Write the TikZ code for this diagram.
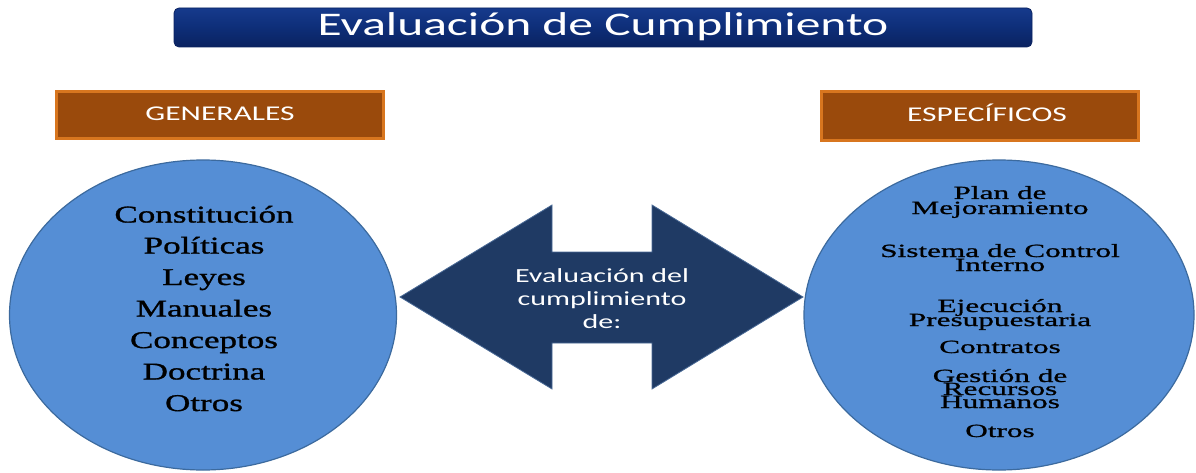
\documentclass[tikz,border=0pt]{standalone}
\usepackage{fontspec}
\setmainfont{Liberation Serif}
\newfontfamily\evalSans[FakeStretch=1.5]{Carlito}
\newfontfamily\evalWideL[FakeStretch=1.46,FakeBold=1.2]{Liberation Serif}
\newfontfamily\evalWideR[FakeStretch=1.68,FakeBold=1]{Liberation Serif}
\usetikzlibrary{shapes.geometric}

\definecolor{evalOvalFill}{HTML}{558ED5}
\definecolor{evalOvalLine}{HTML}{3C6A9E}
\definecolor{evalArrowFill}{HTML}{1F3A64}
\definecolor{evalArrowLine}{HTML}{4A6A96}
\definecolor{evalTitleTop}{HTML}{163A8C}
\definecolor{evalTitleMid}{HTML}{0E2E78}
\definecolor{evalTitleBot}{HTML}{0A2260}
\definecolor{evalHeadFill}{HTML}{9A4A0C}
\definecolor{evalHeadEdge}{HTML}{D8761F}

\begin{document}
\begin{tikzpicture}[
                x=1pt, y=1pt,
                evalTitle/.style={rounded corners=5pt,top color=evalTitleTop,
                                  bottom color=evalTitleBot,middle color=evalTitleMid,
                                  draw=evalTitleBot,line width=0.8pt,
                                  minimum width=858pt,minimum height=39pt,inner sep=0pt},
                evalHeader/.style={rectangle,fill=evalHeadFill,draw=evalHeadEdge,
                                   line width=3pt,inner sep=0pt},
                evalOval/.style={ellipse,fill=evalOvalFill,draw=evalOvalLine,
                                 line width=1.2pt,inner sep=0pt},
                evalArrow/.style={fill=evalArrowFill,draw=evalArrowLine,line width=0.8pt},
                evalSansText/.style={anchor=base,inner sep=0pt,text=white},
                evalItemL/.style={anchor=base,inner sep=0pt,
                                  font=\evalWideL\fontsize{24}{24}\selectfont},
                evalItemR/.style={anchor=base,inner sep=0pt,
                                  font=\evalWideR\fontsize{18.6}{18.6}\selectfont}]
                \useasboundingbox (0,0) rectangle (1196,472);
                % title bar
                \node[evalTitle] (title) at (603,444.5) {};
                \node[evalSansText,font=\evalSans\fontsize{33}{33}\selectfont]
                    (titleText) at (603,436) {Evaluación de Cumplimiento};
                % headers
                \node[evalHeader,minimum width=327pt,minimum height=47pt] (genHead) at (220,357) {};
                \node[evalSansText,font=\evalSans\fontsize{21}{21}\selectfont]
                    (genText) at (220,351) {GENERALES};
                \node[evalHeader,minimum width=317pt,minimum height=49pt] (espHead) at (980,356) {};
                \node[evalSansText,font=\evalSans\fontsize{21}{21}\selectfont]
                    (espText) at (987,350) {ESPECÍFICOS};
                % ovals
                \node[evalOval,minimum width=387pt,minimum height=310pt] (genOval) at (203,157) {};
                \node[evalOval,minimum width=390pt,minimum height=310pt] (espOval) at (999,157) {};
                % double arrow
                \coordinate (tipL) at (400,175);
                \coordinate (tipR) at (803,175);
                \draw[evalArrow] (tipL) -- (552,267) -- (552,220) -- (652,220) -- (652,267)
                    -- (tipR) -- (652,83) -- (652,129) -- (552,129) -- (552,83) -- cycle;
                \foreach \lbl/\base [count=\k] in {Evaluación del/282,cumplimiento/305,de:/328}
                    \node[evalSansText,font=\evalSans\fontsize{20}{20}\selectfont]
                        (arrowText\k) at (602,472-\base) {\lbl};
                % items
                \foreach \lbl/\base [count=\k] in {Constitución/222.5,Políticas/253.5,Leyes/285,
                    Manuales/316.5,Conceptos/348,Doctrina/379.5,Otros/411}
                    \node[evalItemL] (gen\k) at (204,472-\base) {\lbl};
                \foreach \lbl/\base [count=\k] in {Plan de/199,Mejoramiento/214,
                    Sistema de Control/257,Interno/271,Ejecución/312,Presupuestaria/326,
                    Contratos/353,Gestión de/382,Recursos/395,Humanos/408,Otros/437}
                    \node[evalItemR] (esp\k) at (1000,472-\base) {\lbl};
            \end{tikzpicture}
\end{document}
